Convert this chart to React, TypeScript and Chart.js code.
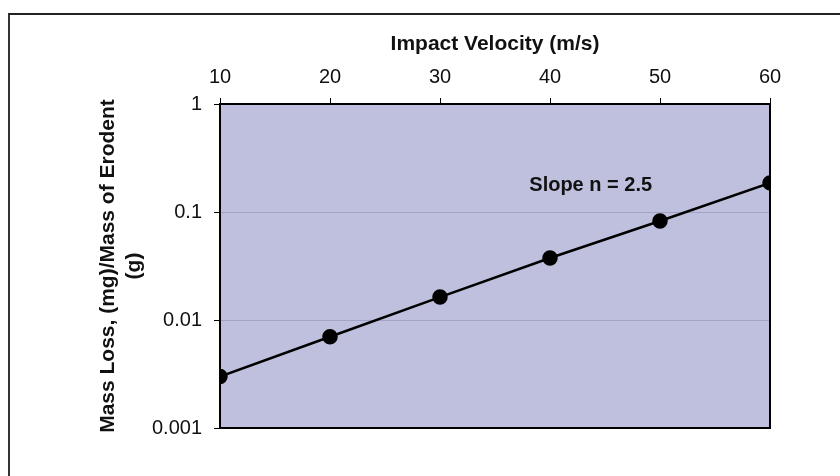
import React, { useEffect, useRef } from "react";
import { Chart, registerables } from "chart.js";

Chart.register(...registerables);

const velocities = [10, 20, 30, 40, 50, 60];
const massLoss = [0.003, 0.007, 0.0163, 0.0375, 0.0826, 0.186];
const yTickValues = [0.001, 0.01, 0.1, 1];
const xTitle = "Impact Velocity (m/s)";
const yTitle = ["Mass Loss, (mg)/Mass of Erodent", "(g)"];
const annotationText = "Slope n = 2.5";
const annotationAt = { x: 43.7, y: 0.176 };

const FONT = "Arial, 'Liberation Sans', Helvetica, sans-serif";

const plotBg = {
  id: "plotBg",
  beforeDraw(chart: any) {
    const { ctx, chartArea } = chart;
    ctx.save();
    ctx.fillStyle = "#bfc0dd";
    ctx.fillRect(chartArea.left, chartArea.top, chartArea.right - chartArea.left, chartArea.bottom - chartArea.top);
    ctx.restore();
  },
  afterDatasetsDraw(chart: any) {
    const { ctx, scales } = chart;
    ctx.save();
    ctx.font = `bold 20px ${FONT}`;
    ctx.fillStyle = "#111";
    ctx.textAlign = "center";
    ctx.textBaseline = "middle";
    ctx.fillText(annotationText, scales.x.getPixelForValue(annotationAt.x), scales.y.getPixelForValue(annotationAt.y));
    ctx.restore();
  },
};

export default function App() {
  const ref = useRef<HTMLCanvasElement | null>(null);
  useEffect(() => {
    if (!ref.current) return;
    const chart = new Chart(ref.current, {
      type: "line",
      data: {
        datasets: [
          {
            data: velocities.map((v, i) => ({ x: v, y: massLoss[i] })),
            borderColor: "#000",
            backgroundColor: "#000",
            borderWidth: 2.5,
            pointRadius: 6.5,
            pointBackgroundColor: "#000",
            pointBorderColor: "#000",
            tension: 0,
          },
        ],
      },
      options: {
        animation: false,
        responsive: false,
        layout: { padding: { left: 10, right: 70, top: 14, bottom: 48 } },
        plugins: { legend: { display: false }, tooltip: { enabled: false } },
        scales: {
          x: {
            type: "linear",
            position: "top",
            min: 10,
            max: 60,
            ticks: {
              stepSize: 10,
              color: "#111",
              font: { family: FONT, size: 20 },
              padding: 9,
            },
            grid: {
              drawOnChartArea: false,
              drawTicks: true,
              tickLength: 6,
              color: "#000",
            },
            border: { display: true, color: "#000", width: 2 },
            title: {
              display: true,
              text: xTitle,
              color: "#111",
              font: { family: FONT, size: 21, weight: "bold" },
              padding: { top: 18, bottom: 0 },
            },
            afterFit(scale: any) {
              scale.height = 90;
            },
          },
          y: {
            type: "logarithmic",
            min: 0.001,
            max: 1,
            afterBuildTicks(scale: any) {
              scale.ticks = yTickValues.map((v) => ({ value: v, major: true }));
            },
            ticks: {
              color: "#111",
              font: { family: FONT, size: 20 },
              padding: 12,
              callback: (v: any) => String(v),
            },
            grid: {
              drawOnChartArea: true,
              drawTicks: true,
              tickLength: 6,
              color: "rgba(100,100,140,0.3)",
              tickColor: "#000",
            } as any,
            border: { display: true, color: "#000", width: 2 },
            title: {
              display: true,
              text: yTitle,
              color: "#111",
              font: { family: FONT, size: 21, weight: "bold" },
              padding: { top: 86, bottom: 0 },
            },
            afterFit(scale: any) {
              scale.width = 210;
            },
          },
          x2: {
            type: "linear",
            position: "bottom",
            min: 10,
            max: 60,
            ticks: { display: false },
            grid: { display: false },
            border: { display: true, color: "#000", width: 2 },
            afterFit(scale: any) {
              scale.height = 0;
            },
          },
          y2: {
            type: "logarithmic",
            position: "right",
            min: 0.001,
            max: 1,
            ticks: { display: false },
            grid: { display: false },
            border: { display: true, color: "#000", width: 2 },
            afterFit(scale: any) {
              scale.width = 0;
            },
          },
        },
      } as any,
      plugins: [plotBg],
    });
    return () => chart.destroy();
  }, []);

  return (
    <div
      style={{
        position: "fixed",
        left: 0,
        top: 0,
        width: 840,
        height: 476,
        background: "#fff",
      }}
    >
      <div
        style={{
          position: "absolute",
          left: 8,
          top: 13,
          width: 832,
          height: 463,
          borderTop: "2px solid #222",
          borderLeft: "2px solid #333",
          boxSizing: "border-box",
        }}
      />
      <canvas ref={ref} width={840} height={476} style={{ position: "absolute", left: 0, top: 0 }} />
    </div>
  );
}
